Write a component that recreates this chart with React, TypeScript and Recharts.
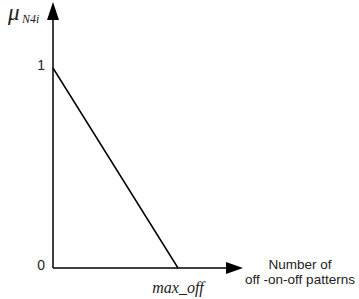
import { LineChart, Line, XAxis, YAxis, ReferenceLine } from 'recharts'

// x: number of off-on-off patterns (0 .. max_off), y: membership degree
const patternCounts = [0, 1]
const membership = [1, 0]
const yTicks = [0, 1]
const xTicks = [1]
const xTickLabels = ['max_off']
const xAxisTitle = ['Number of', 'off -on-off patterns']

const data = patternCounts.map((x, i) => ({ x, mu: membership[i] }))

const X_MAX = 1.52
const Y_MAX = 1.33

const SANS = 'Arial, "Liberation Sans", sans-serif'
const SERIF = '"Times New Roman", "Liberation Serif", serif'

function ArrowX(props: any) {
    const { x1, y1, x2 } = props
    return (
        <g>
            <line x1={x1} y1={y1} x2={x2 - 10} y2={y1} stroke="#000" strokeWidth={1.5} />
            <polygon points={`${x2},${y1} ${x2 - 17},${y1 - 6} ${x2 - 17},${y1 + 6}`} fill="#000" />
        </g>
    )
}

function ArrowY(props: any) {
    const { x1, y1, y2 } = props
    const top = Math.min(y1, y2)
    const bottom = Math.max(y1, y2)
    return (
        <g>
            <line x1={x1} y1={bottom} x2={x1} y2={top + 10} stroke="#000" strokeWidth={1.5} />
            <polygon points={`${x1},${top} ${x1 - 6},${top + 18} ${x1 + 6},${top + 18}`} fill="#000" />
        </g>
    )
}

function XTick({ x, y, payload }: any) {
    const idx = xTicks.indexOf(payload.value)
    return (
        <text x={x} y={y + 23} textAnchor="middle" fontFamily={SERIF} fontStyle="italic" fontSize={16} fill="#222">
            {xTickLabels[idx]}
        </text>
    )
}

function YTick({ x, y, payload }: any) {
    return (
        <text x={x} y={y + 2} textAnchor="end" fontFamily={SANS} fontSize={14} fill="#222">
            {payload.value}
        </text>
    )
}

function YTitle({ viewBox }: any) {
    const { x, y } = viewBox
    return (
        <g>
            <text x={x + 8} y={y + 18} fontFamily={SERIF} fontStyle="italic" fontSize={23} fill="#222">
                μ
            </text>
            <text x={x + 22} y={y + 21} fontFamily={SERIF} fontStyle="italic" fontSize={12} fill="#222">
                N4i
            </text>
        </g>
    )
}

function XTitle({ viewBox }: any) {
    const { x, y, width } = viewBox
    const cx = x + width + 57
    return (
        <g fontFamily={SANS} fontSize={13.5} fill="#222">
            <text x={cx} y={y + 1} textAnchor="middle">{xAxisTitle[0]}</text>
            <text x={cx} y={y + 16} textAnchor="middle">{xAxisTitle[1]}</text>
        </g>
    )
}

function XTitleWrap(props: any) {
    return <XTitle {...props} />
}

function YTitleWrap(props: any) {
    return <YTitle {...props} />
}

export default function App() {
    return (
        <div style={{ position: 'absolute', left: 0, top: 0, width: 359, height: 299, background: '#fff' }}>
            <LineChart width={359} height={299} data={data} margin={{ top: 2, right: 116, bottom: 0, left: 0 }}>
                <XAxis
                    dataKey="x"
                    type="number"
                    domain={[0, X_MAX]}
                    ticks={xTicks}
                    axisLine={false}
                    tickLine={false}
                    tickSize={0}
                    height={31}
                    tick={<XTick />}
                    label={<XTitleWrap />}
                />
                <YAxis
                    type="number"
                    domain={[0, Y_MAX]}
                    ticks={yTicks}
                    axisLine={false}
                    tickLine={false}
                    tickSize={0}
                    tickMargin={8}
                    width={53}
                    tick={<YTick />}
                    label={<YTitleWrap />}
                />
                <ReferenceLine segment={[{ x: 0, y: 0 }, { x: X_MAX, y: 0 }]} ifOverflow="visible" shape={<ArrowX />} />
                <ReferenceLine segment={[{ x: 0, y: 0 }, { x: 0, y: Y_MAX }]} ifOverflow="visible" shape={<ArrowY />} />
                <Line
                    dataKey="mu"
                    type="linear"
                    stroke="#000"
                    strokeWidth={1.5}
                    dot={false}
                    activeDot={false}
                    isAnimationActive={false}
                />
            </LineChart>
        </div>
    )
}
